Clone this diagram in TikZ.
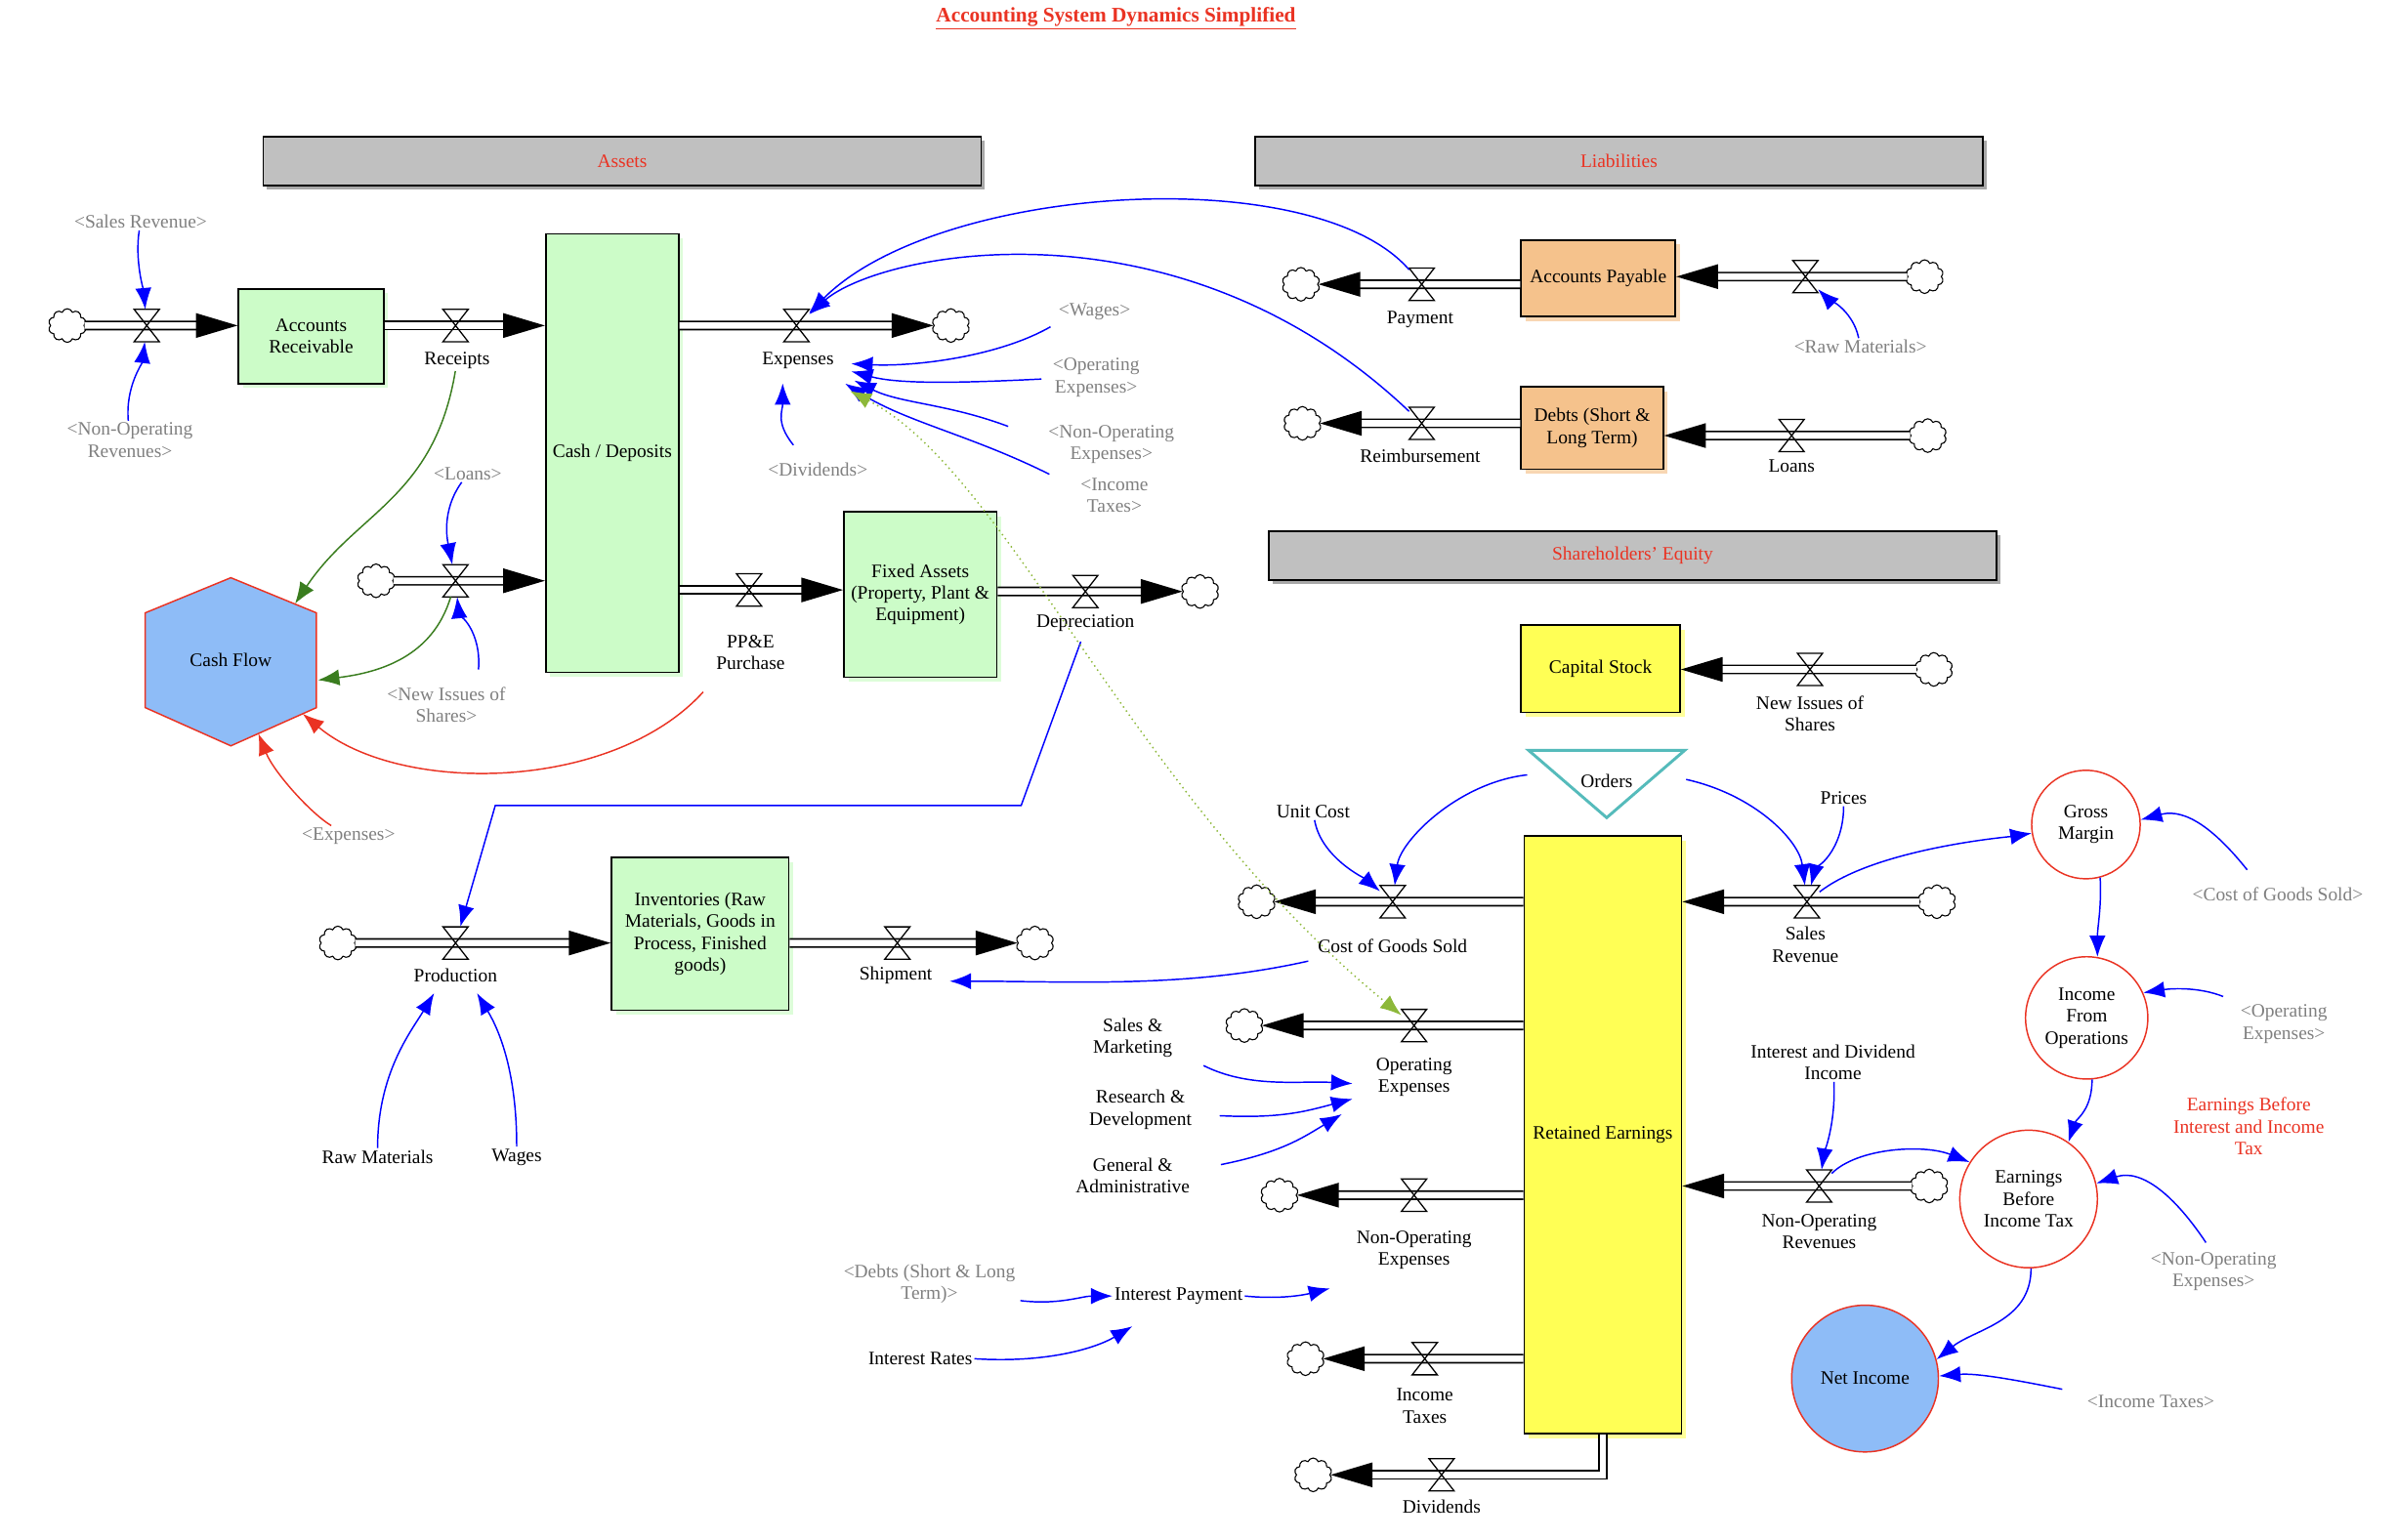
\documentclass[tikz,border=0pt]{standalone}
\usepackage{fontspec}
\setmainfont{Liberation Serif}
\usetikzlibrary{arrows.meta,shapes.symbols,shadows,calc}

\definecolor{stockgreen}{HTML}{CCFCC8}
\definecolor{stockshade}{HTML}{DDFDD9}
\definecolor{debtorange}{HTML}{F5C28C}
\definecolor{debtshade}{HTML}{F8D6B2}
\definecolor{equityyellow}{HTML}{FFFF55}
\definecolor{equityshade}{HTML}{FFFF99}
\definecolor{flowblue}{HTML}{8EBCF7}
\definecolor{headgray}{HTML}{C0C0C0}
\definecolor{headshade}{HTML}{A8A8A8}
\definecolor{notered}{HTML}{EA3323}
\definecolor{orderteal}{HTML}{55BBBB}
\definecolor{cashgreen}{HTML}{3A7D1F}
\definecolor{dotgreen}{HTML}{8DB83A}
\definecolor{shadowtext}{HTML}{808080}

\tikzset{
  every node/.style={font=\fontsize{10.6}{12.2}\selectfont},
  header/.style={draw, line width=1pt, fill=headgray, text=notered, minimum height=0.96cm,
    general shadow={fill=headshade, shadow xshift=2pt, shadow yshift=-2pt}},
  stock/.style={draw, line width=0.9pt, align=center, inner sep=2pt},
  assetstock/.style={stock, fill=stockgreen, general shadow={fill=stockshade, shadow xshift=2.5pt, shadow yshift=-2.5pt}},
  debtstock/.style={stock, fill=debtorange, general shadow={fill=debtshade, shadow xshift=2.5pt, shadow yshift=-2.5pt}},
  equitystock/.style={stock, fill=equityyellow, general shadow={fill=equityshade, shadow xshift=2.5pt, shadow yshift=-2.5pt}},
  margin/.style={circle, draw=notered, line width=0.8pt, fill=white, align=center, inner sep=0pt},
  valve/.style={inner sep=0pt, minimum width=0.48cm, minimum height=0.62cm},
  bound/.style={cloud, cloud puffs=10, cloud puff arc=140, aspect=1.1, draw, line width=0.6pt,
    fill=white, minimum width=0.74cm, minimum height=0.66cm, inner sep=0pt},
  pipe/.style={line width=0.9pt, double=white, double distance=3.6pt, -{Triangle[length=0.82cm,width=0.48cm]}},
  rate/.style={align=center, inner sep=1pt},
  ghost/.style={rate, text=shadowtext},
  link/.style={draw=blue, line width=0.8pt, -{Latex[length=0.42cm,width=0.32cm]}},
  cashlink/.style={link, draw=cashgreen},
  outlink/.style={link, draw=notered},
  tielink/.style={draw=dotgreen, line width=0.8pt, dotted, {Latex[length=0.42cm,width=0.32cm]}-{Latex[length=0.42cm,width=0.32cm]}}
}

\begin{document}
\begin{tikzpicture}[x=0.03cm, y=-0.03cm]
\useasboundingbox (0,0) rectangle (1568,1007);

% title and sectors
\node[text=notered, font=\fontsize{11.6}{14}\selectfont] (title) at (730,12) {\underline{\textbf{Accounting System Dynamics Simplified}}};
\node[header, minimum width=14.09cm] (assets) at (407,105.5) {Assets};
\node[header, minimum width=14.28cm] (liab) at (1059,105.5) {Liabilities};
\node[header, minimum width=14.28cm] (shequity) at (1068,363.5) {Shareholders' Equity};

% stocks
\node[assetstock, minimum width=2.85cm, minimum height=1.86cm] (ar) at (203.5,220) {Accounts\\Receivable};
\node[assetstock, minimum width=2.61cm, minimum height=8.61cm] (cash) at (400.5,296.5) {Cash / Deposits};
\node[assetstock, minimum width=3cm, minimum height=3.24cm] (fa) at (602,389) {Fixed Assets\\(Property, Plant \&\\Equipment)};
\node[assetstock, minimum width=3.48cm, minimum height=3cm] (inv) at (458,611) {Inventories (Raw\\Materials, Goods in\\Process, Finished\\goods)};
\node[debtstock, minimum width=3.03cm, minimum height=1.5cm] (ap) at (1045.5,182) {Accounts Payable};
\node[debtstock, minimum width=2.79cm, minimum height=1.62cm] (debts) at (1041.5,280) {Debts (Short \&\\Long Term)};
\node[equitystock, minimum width=3.12cm, minimum height=1.71cm] (cs) at (1047,437.5) {Capital Stock};
\node[equitystock, minimum width=3.09cm, minimum height=11.73cm] (re) at (1048.5,742.5) {Retained Earnings};

% cash flow hexagon and orders
\draw[fill=flowblue, draw=notered, line width=0.8pt] (151,378) -- (207,401) -- (207,463) -- (151,488) -- (95,463) -- (95,401) -- cycle;
\node (cf) at (151,432) {Cash Flow};
\coordinate (cfa) at (193,395);
\coordinate (cfb) at (208,445);
\coordinate (cfc) at (198,467);
\coordinate (cfd) at (169,480);
\draw[draw=orderteal, line width=1.6pt, fill=white] (1000,491) -- (1102,491) -- (1051,535) -- cycle;
\node (orders) at (1051,511) {Orders};

% income statement
\node[margin, minimum size=2.13cm] (gm) at (1364.5,539.5) {Gross\\Margin};
\node[margin, minimum size=2.4cm] (ifo) at (1365,666) {Income\\From\\Operations};
\node[margin, minimum size=2.7cm] (ebit) at (1327,784.5) {Earnings\\Before\\Income Tax};
\node[margin, fill=flowblue, minimum size=2.88cm] (ni) at (1220,902) {Net Income};

% valves and clouds
\foreach \n/\x/\y in {vsr/96/213, vrec/298/213, vexp/521/213, viss/298/380, vppe/490/386,
    vdep/710/387, vpay/930/186, vrm/1181/181, vreim/930/277, vloan/1172/285, vns/1184/438,
    vcogs/911/590, vsales/1182/590, vopex/925/671, vnoe/925/782, vnor/1190/776,
    vtax/932/889, vdiv/943/965, vprod/298/617, vship/587/617}
  \node[valve] (\n) at (\x,\y) {};
\foreach \n/\x/\y in {csr/44/213, cexp/622/213, ciss/246/380, cdep/785/387, cpay/851/186,
    crm/1259/181, creim/852/277, cloan/1261/285, cns/1265/438, ccogs/822/590, csales/1267/590,
    copex/814/671, cnoe/837/782, cnor/1262/776, ctax/854/889, cdiv/859/965, cprod/221/617, cship/677/617}
  \node[bound] (\n) at (\x,\y) {};

% pipes
\draw[pipe] (csr) -- (csr -| ar.west);
\draw[pipe] (vrec -| ar.east) -- (vrec -| cash.west);
\draw[pipe] (vexp -| cash.east) -- (cexp);
\draw[pipe] (ciss) -- (ciss -| cash.west);
\draw[pipe] (vppe -| cash.east) -- (vppe -| fa.west);
\draw[pipe] (vdep -| fa.east) -- (cdep);
\draw[pipe] (vpay -| ap.west) -- (cpay);
\draw[pipe] (crm) -- (crm -| ap.east);
\draw[pipe] (vreim -| debts.west) -- (creim);
\draw[pipe] (cloan) -- (cloan -| debts.east);
\draw[pipe] (cns) -- (cns -| cs.east);
\draw[pipe] (vcogs -| re.west) -- (ccogs);
\draw[pipe] (csales) -- (csales -| re.east);
\draw[pipe] (vopex -| re.west) -- (copex);
\draw[pipe] (vnoe -| re.west) -- (cnoe);
\draw[pipe] (cnor) -- (cnor -| re.east);
\draw[pipe] (vtax -| re.west) -- (ctax);
\draw[pipe] (re.south) |- (cdiv);
\draw[pipe] (cprod) -- (cprod -| inv.west);
\draw[pipe] (vship -| inv.east) -- (cship);

\foreach \v in {vsr, vrec, vexp, viss, vppe, vdep, vpay, vrm, vreim, vloan, vns,
    vcogs, vsales, vopex, vnoe, vnor, vtax, vdiv, vprod, vship}
  \draw[line width=0.7pt] (\v.north west) -- (\v.north east) -- (\v.south west) -- (\v.south east) -- cycle;

% flow names
\node[rate] (lrec) at (299,236) {Receipts};
\node[rate] (lexpl) at (522,236) {Expenses};
\node[rate] (lppe) at (491,427) {PP\&E\\Purchase};
\node[rate] (ldep) at (710,408) {Depreciation};
\node[rate] (lpay) at (929,209) {Payment};
\node[rate] (lreim) at (929,298) {Reimbursement};
\node[rate] (lloan) at (1172,305) {Loans};
\node[rate] (lns) at (1184,467) {New Issues of\\Shares};
\node[rate] (lcogl) at (911,619) {Cost of Goods Sold};
\node[rate] (lsales) at (1181,618) {Sales\\Revenue};
\node[rate] (lopexl) at (925,705) {Operating\\Expenses};
\node[rate] (lnoel) at (925,818) {Non-Operating\\Expenses};
\node[rate] (lnorl) at (1190,806) {Non-Operating\\Revenues};
\node[rate] (ltaxl) at (932,920) {Income\\Taxes};
\node[rate] (ldivl) at (943,986) {Dividends};
\node[rate] (lprod) at (298,638) {Production};
\node[rate] (lship) at (586,638) {Shipment};

% auxiliaries and shadow variables
\node[ghost] (lsr) at (92,145) {<Sales Revenue>};
\node[ghost] (lnorv) at (85,288) {<Non-Operating\\Revenues>};
\node[ghost] (lloans) at (306,310) {<Loans>};
\node[ghost] (lnis) at (292,461) {<New Issues of\\Shares>};
\node[ghost] (lexpcf) at (228,547) {<Expenses>};
\node[ghost] (ldiv) at (535,307) {<Dividends>};
\node[ghost] (lwg) at (716,204) {<Wages>};
\node[ghost] (lopx) at (717,247) {<Operating\\Expenses>};
\node[ghost] (lnox) at (727,291) {<Non-Operating\\Expenses>};
\node[ghost] (ltx) at (729,324) {<Income\\Taxes>};
\node[ghost] (lrm) at (1217,227) {<Raw Materials>};
\node[rate] (luc) at (859,531) {Unit Cost};
\node[rate] (lpr) at (1206,522) {Prices};
\node[rate] (lidi) at (1199,695) {Interest and Dividend\\Income};
\node[rate] (lsm) at (741,679) {Sales \&\\Marketing};
\node[rate] (lrd) at (746,726) {Research \&\\Development};
\node[rate] (lga) at (741,769) {General \&\\Administrative};
\node[ghost] (ldebt) at (608,840) {<Debts (Short \& Long\\Term)>};
\node[rate] (lip) at (771,848) {Interest Payment};
\node[rate] (lir) at (602,889) {Interest Rates};
\node[rate] (lrmat) at (247,757) {Raw Materials};
\node[rate] (lwag) at (338,757) {Wages};
\node[ghost] (lcgs) at (1490,585) {<Cost of Goods Sold>};
\node[ghost] (lopx2) at (1494,670) {<Operating\\Expenses>};
\node[rate, text=notered] (ebitnote) at (1471,737) {Earnings Before\\Interest and Income\\Tax};
\node[ghost] (lnox2) at (1448,832) {<Non-Operating\\Expenses>};
\node[ghost] (ltx2) at (1407,917) {<Income Taxes>};
\coordinate (ipout) at (870,843);

% links, assets side
\draw[link] (lsr) .. controls +(-4,25) and +(-2,-22) .. (vsr);
\draw[link] (lnorv) .. controls +(-3,-35) and +(-3,25) .. (vsr);
\draw[link] (lloans) .. controls +(-18,25) and +(-5,-25) .. (viss);
\draw[link] ($(lnis.north)+(21,-10)$) .. controls +(2,-25) and +(2,20) .. (viss);
\draw[cashlink] (lrec) .. controls +(-15,90) and +(40,-60) .. (cfa);
\draw[cashlink] (viss) .. controls +(-15,50) and +(40,-5) .. (cfb);
\draw[outlink] ($(lppe.south)+(-31,13)$) .. controls +(-60,66) and +(63,53) .. (cfc);
\draw[outlink] (lexpcf) .. controls +(-25,-15) and +(10,25) .. (cfd);
\draw[link] ($(ldiv.north)+(-16,-10)$) .. controls +(-12,-15) and +(0,18) .. ($(lexpl.south)+(-10,8)$);
\draw[link] ($(lwg.south west)+(-4,3)$) .. controls +(-35,20) and +(40,2) .. ($(lexpl.east)+(10,2)$);
\draw[link] ($(lopx.west)+(-6,1)$) .. controls +(-60,3) and +(30,8) .. ($(lexpl.east)+(10,7)$);
\draw[link] ($(lnox.west)+(-25,-12)$) .. controls +(-40,-15) and +(30,15) .. ($(lexpl.east)+(12,13)$);
\draw[link] ($(ltx.north west)+(-19,-1)$) .. controls +(-50,-25) and +(40,25) .. ($(lexpl.east)+(6,15)$);
\draw[link] (vpay) .. controls +(-70,-81) and +(93,-93) .. (vexp);
\draw[link] (vreim) .. controls +(-160,-152) and +(54,-48) .. (vexp);
\draw[link] (lrm) .. controls +(-5,-25) and +(12,12) .. (vrm);
\draw[link] ($(ldep.south)+(-3,5)$) -- (668,527) -- (324,527) -- (vprod);
\draw[link] ($(lcogl.south west)+(-5,4)$) .. controls +(-80,18) and +(80,0) .. ($(lship.east)+(10,4)$);
\draw[link] (lrmat) .. controls +(0,-55) and +(-15,25) .. ($(lprod.south)+(-14,6)$);
\draw[link] (lwag) .. controls +(0,-55) and +(15,25) .. ($(lprod.south)+(14,6)$);
\draw[tielink] ($(lexpl.south)+(34,13)$) .. controls +(104,54) and +(-185,-151) .. (vopex);

% links, equity side
\draw[link] (luc) .. controls +(5,30) and +(-18,-15) .. (vcogs);
\draw[link] ($(orders)+(-52,-4)$) .. controls +(-45,5) and +(5,-40) .. (vcogs);
\draw[link] ($(orders)+(52,-1)$) .. controls +(45,10) and +(-5,-40) .. (vsales);
\draw[link] (lpr) .. controls +(0,35) and +(5,-20) .. (vsales);
\draw[link] (vsales) .. controls +(45,-35) and +(-50,8) .. (gm);
\draw[link] (gm.-75) .. controls +(1,20) and +(0,-20) .. (ifo.80);
\draw[link] (ifo.-85) .. controls +(0,20) and +(5,-15) .. (ebit.55);
\draw[link] (ebit.-88) .. controls +(0,35) and +(25,-20) .. (ni.15);
\draw[link] ($(lcgs.north)+(-20,-10)$) .. controls +(-20,-25) and +(30,-8) .. (gm.5);
\draw[link] ($(lopx2.north west)+(-10,-4)$) .. controls +(-15,-6) and +(20,-3) .. (ifo.24);
\draw[link] ($(lnox2.north)+(-5,-5)$) .. controls +(-20,-30) and +(30,-10) .. (ebit.13);
\draw[link] ($(ltx2.west)+(-15,-8)$) .. controls +(-30,-6) and +(25,-2) .. (ni.2);
\draw[link] (vnor) .. controls +(25,-25) and +(-30,-12) .. (ebit.148);
\draw[link] (lidi) .. controls +(2,40) and +(3,-20) .. (vnor);
\draw[link] ($(lsm.south east)+(19,4)$) .. controls +(30,15) and +(-35,-2) .. ($(lopexl.west)+(-14,4)$);
\draw[link] ($(lrd.east)+(17,4)$) .. controls +(40,2) and +(-30,8) .. ($(lopexl.west)+(-14,14)$);
\draw[link] ($(lga.east)+(19,-7)$) .. controls +(40,-8) and +(-25,15) .. ($(lopexl.west)+(-21,24)$);
\draw[link] ($(ldebt.east)+(2,11)$) .. controls +(25,3) and +(-20,0) .. (lip.west);
\draw[link] (lir.east) .. controls +(45,3) and +(-25,15) .. ($(lip.south west)+(13,13)$);
\draw[link] (lip.east) .. controls +(20,2) and +(-20,5) .. (ipout);
\end{tikzpicture}
\end{document}
